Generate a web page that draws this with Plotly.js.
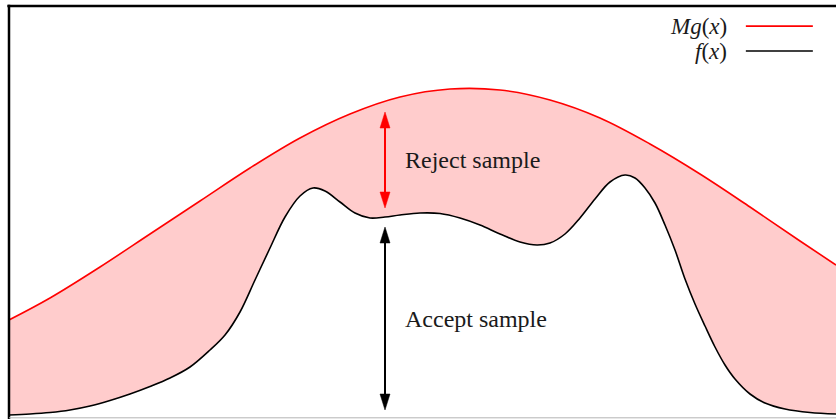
<!DOCTYPE html>
<html>
<head>
<meta charset="utf-8">
<script src="https://cdn.plot.ly/plotly-3.0.1.min.js"></script>
<style>
  html, body { margin: 0; padding: 0; background: #fff; overflow: hidden; }
  #chart { width: 836px; height: 419px; }
</style>
</head>
<body>
<div id="chart"></div>
<script>
// Envelope M·g(x): smooth bell-shaped proposal scaled above the target
const envX = [0.00, 0.41, 0.91, 1.41, 1.91, 2.41, 2.91, 3.41, 3.91, 4.41, 4.91, 5.41, 5.91, 6.41, 6.91, 7.41, 7.91, 8.27];
const envY = [0.97, 1.19, 1.50, 1.83, 2.16, 2.49, 2.79, 3.03, 3.20, 3.28, 3.27, 3.17, 2.99, 2.73, 2.43, 2.10, 1.76, 1.52];

// Target density f(x): two bumps with a shallow plateau between them
const tgtX = [0.00, 0.21, 0.41, 0.61, 0.81, 1.01, 1.21, 1.41, 1.61, 1.81, 2.01, 2.16, 2.31, 2.46, 2.61, 2.76, 2.91, 3.04, 3.16, 3.31, 3.46, 3.61, 3.76, 3.91, 4.11, 4.31, 4.51, 4.71, 4.91, 5.11, 5.28, 5.41, 5.56, 5.71, 5.86, 6.01, 6.16, 6.26, 6.36, 6.46, 6.56, 6.66, 6.76, 6.86, 6.96, 7.06, 7.16, 7.26, 7.41, 7.56, 7.76, 8.01, 8.27];
const tgtY = [0.02, 0.03, 0.045, 0.07, 0.11, 0.165, 0.23, 0.305, 0.39, 0.50, 0.67, 0.82, 1.05, 1.37, 1.69, 2.00, 2.21, 2.29, 2.26, 2.15, 2.04, 1.99, 2.00, 2.02, 2.04, 2.035, 1.99, 1.92, 1.83, 1.75, 1.72, 1.74, 1.83, 1.99, 2.18, 2.35, 2.42, 2.39, 2.29, 2.14, 1.92, 1.67, 1.38, 1.13, 0.91, 0.70, 0.52, 0.38, 0.23, 0.14, 0.08, 0.045, 0.03];

// Legend entries
const legendLabels = ['<i>Mg</i>(<i>x</i>)', '<i>f</i>(<i>x</i>)'];
const legendColors = ['#ff0000', '#000000'];

// Double-headed arrows marking the reject / accept spans
const arrowX = [3.76, 3.76];
const arrowTop = [3.05, 1.90];
const arrowBottom = [2.09, 0.07];
const arrowColor = ['#ff0000', '#000000'];
const arrowLabel = ['Reject sample', 'Accept sample'];

const W = 836, H = 419;
const margin = {l: 9, r: 0, t: 6, b: 2};
const xRange = [0, 8.27], yRange = [0, 4.11];
const pxPerY = (H - margin.t - margin.b) / (yRange[1] - yRange[0]);

const traces = [
  {
    x: tgtX, y: tgtY, type: 'scatter', mode: 'lines',
    line: {color: '#000000', width: 1.6, shape: 'spline', smoothing: 1},
    hoverinfo: 'skip', showlegend: false
  },
  {
    x: envX, y: envY, type: 'scatter', mode: 'lines',
    line: {color: '#ff0000', width: 1.6, shape: 'spline', smoothing: 1},
    fill: 'tonexty', fillcolor: 'rgb(255,204,204)',
    hoverinfo: 'skip', showlegend: false
  }
];

const shapes = [];
const annotations = [];

// Frame: heavy top and left edges, light baseline
shapes.push({type: 'line', xref: 'paper', yref: 'paper', x0: -0.002, x1: 1.01, y0: 1, y1: 1,
             line: {color: '#000', width: 2.5}, layer: 'above'});
shapes.push({type: 'line', xref: 'paper', yref: 'paper', x0: 0, x1: 0, y0: -0.01, y1: 1.003,
             line: {color: '#000', width: 2.5}, layer: 'above'});
shapes.push({type: 'line', xref: 'paper', yref: 'paper', x0: 0, x1: 1.01, y0: -0.002, y1: -0.002,
             line: {color: '#b4b4b4', width: 1}, layer: 'above'});

// Arrows
const headLen = 16, headHalf = 5;
for (let i = 0; i < arrowX.length; i++) {
  const inset = (headLen - 4) / pxPerY;
  shapes.push({type: 'line', xref: 'x', yref: 'y',
               x0: arrowX[i], x1: arrowX[i], y0: arrowTop[i] - inset, y1: arrowBottom[i] + inset,
               line: {color: arrowColor[i], width: 2}, layer: 'above'});
  shapes.push({type: 'path', xref: 'x', yref: 'y', xsizemode: 'pixel', ysizemode: 'pixel',
               xanchor: arrowX[i], yanchor: arrowTop[i],
               path: `M0,0 L${-headHalf},${-headLen} L${headHalf},${-headLen} Z`,
               fillcolor: arrowColor[i], line: {color: arrowColor[i], width: 0.5}, layer: 'above'});
  shapes.push({type: 'path', xref: 'x', yref: 'y', xsizemode: 'pixel', ysizemode: 'pixel',
               xanchor: arrowX[i], yanchor: arrowBottom[i],
               path: `M0,0 L${-headHalf},${headLen} L${headHalf},${headLen} Z`,
               fillcolor: arrowColor[i], line: {color: arrowColor[i], width: 0.5}, layer: 'above'});
  annotations.push({x: arrowX[i] + 0.21, y: (arrowTop[i] + arrowBottom[i]) / 2, xref: 'x', yref: 'y',
                    text: arrowLabel[i], showarrow: false, xanchor: 'left', yanchor: 'middle', xshift: -3,
                    font: {family: 'Liberation Serif, serif', size: 24, color: '#1a1a1a'}});
}

// Legend drawn as label-then-line rows in the top right corner
const legendRowY = [0.951, 0.8905];
for (let i = 0; i < legendLabels.length; i++) {
  annotations.push({x: 0.8706, y: legendRowY[i], xref: 'paper', yref: 'paper',
                    text: legendLabels[i], showarrow: false, xanchor: 'right', yanchor: 'middle',
                    font: {family: 'Liberation Serif, serif', size: 23, color: '#1a1a1a'}});
  shapes.push({type: 'line', xref: 'paper', yref: 'paper', x0: 0.891, x1: 0.972,
               y0: legendRowY[i], y1: legendRowY[i],
               line: {color: legendColors[i], width: 1.6}, layer: 'above'});
}

const layout = {
  width: W, height: H, margin: margin,
  paper_bgcolor: '#ffffff', plot_bgcolor: '#ffffff',
  showlegend: false,
  xaxis: {range: xRange, visible: false, fixedrange: true},
  yaxis: {range: yRange, visible: false, fixedrange: true},
  shapes: shapes, annotations: annotations
};

Plotly.newPlot('chart', traces, layout, {staticPlot: true, displayModeBar: false});
</script>
</body>
</html>
